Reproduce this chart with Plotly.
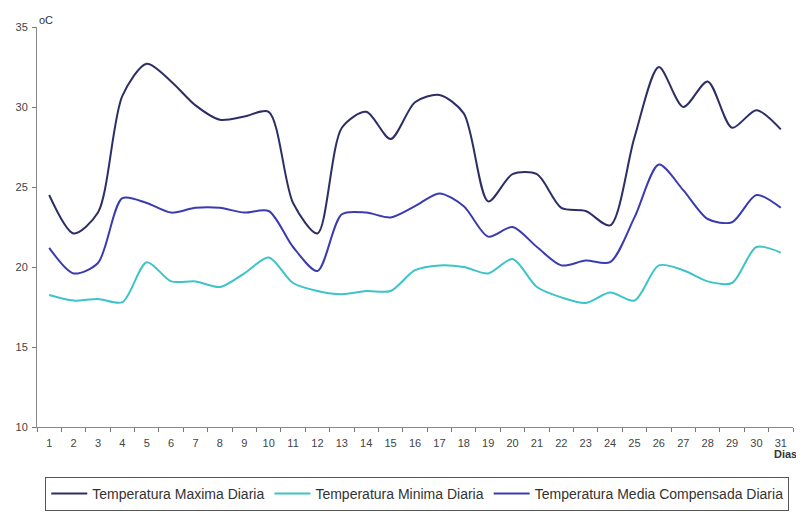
import plotly.graph_objects as go

dias = [str(d) for d in range(1, 32)]

temp_max = [24.5, 22.1, 23.4, 30.7, 32.7, 31.6, 30.1, 29.2, 29.4, 29.7,
            24.0, 22.1, 28.7, 29.7, 28.0, 30.3, 30.75, 29.6, 24.1, 25.8,
            25.8, 23.7, 23.5, 22.6, 28.1, 32.5, 30.0, 31.6, 28.7, 29.8, 28.6]

temp_min = [18.25, 17.9, 18.0, 17.8, 20.3, 19.1, 19.1, 18.75, 19.6, 20.6,
            19.0, 18.5, 18.3, 18.5, 18.5, 19.8, 20.1, 20.0, 19.6, 20.5,
            18.75, 18.1, 17.75, 18.4, 17.9, 20.1, 19.8, 19.1, 19.0, 21.25, 20.9]

temp_media = [21.2, 19.6, 20.25, 24.3, 24.0, 23.4, 23.7, 23.7, 23.4, 23.5,
              21.25, 19.75, 23.3, 23.4, 23.1, 23.8, 24.6, 23.8, 21.9, 22.5,
              21.25, 20.1, 20.4, 20.3, 23.1, 26.4, 24.8, 23.0, 22.8, 24.5, 23.7]

series_names = ["Temperatura Maxima Diaria", "Temperatura Minima Diaria",
                "Temperatura Media Compensada Diaria"]
colors = ["#2e2e66", "#3cc4c8", "#3b3bb0"]

fig = go.Figure()
for name, vals, col in zip(series_names, [temp_max, temp_min, temp_media], colors):
    fig.add_trace(go.Scatter(x=dias, y=vals, name=name, mode="lines",
                             line=dict(color=col, width=2, shape="spline", smoothing=0.8)))

fig.update_layout(
    width=796, height=504,
    margin=dict(l=29, r=11, t=19, b=85, autoexpand=False),
    paper_bgcolor="white", plot_bgcolor="white",
    font=dict(family="Liberation Sans, Arial, sans-serif", size=11, color="#444"),
    showlegend=True,
    legend=dict(orientation="h", x=0.503, xanchor="center", y=-0.125, yanchor="top",
                bordercolor="#555", borderwidth=1, font=dict(size=14, color="#333"),
                itemwidth=36, tracegroupgap=0),
    xaxis=dict(type="category", tickson="boundaries", ticks="outside", ticklen=4,
               tickcolor="#777", showline=True, linecolor="#888", linewidth=1,
               showgrid=False, range=[-0.5, 30.5], fixedrange=True,
               ticklabelstandoff=6),
    yaxis=dict(range=[10, 35], dtick=5, tick0=10, ticks="outside", ticklen=4,
               tickcolor="#777", showline=True, linecolor="#888", linewidth=1,
               showgrid=False, zeroline=False, fixedrange=True,
               ticklabelstandoff=2),
    annotations=[
        dict(text="oC", xref="paper", yref="paper", x=0, y=1, xanchor="left",
             yanchor="bottom", showarrow=False, font=dict(size=11, color="#333"),
             xshift=0, yshift=-1),
        dict(text="Dias", xref="paper", yref="paper", x=1, y=0, xanchor="right",
             yanchor="top", showarrow=False,
             font=dict(size=11, color="#333", weight="bold"),
             xshift=6, yshift=-19),
    ],
)

fig.write_html("out.html")
